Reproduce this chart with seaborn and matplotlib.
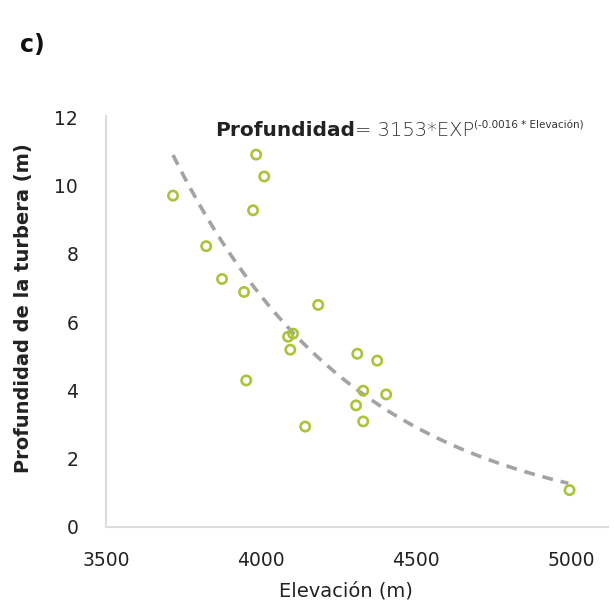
import numpy as np
import matplotlib
matplotlib.use("Agg")
import matplotlib.pyplot as plt
import seaborn as sns
import pandas as pd

# Data
elevacion = [3716, 3984, 4010, 3974, 3823, 3874, 3945, 4184, 4103, 4087,
             4094, 4310, 4374, 3952, 4329, 4403, 4306, 4329, 4142, 4994]
profundidad = [9.7, 10.9, 10.26, 9.27, 8.22, 7.26, 6.88, 6.5, 5.66, 5.57,
               5.19, 5.07, 4.87, 4.29, 3.99, 3.88, 3.56, 3.09, 2.94, 1.08]

# Visual trend curve parameters (drawn dashed line)
trend_a = 5600.0
trend_b = 0.00168
trend_x = [3716, 4990]

x_ticks = [3500, 4000, 4500, 5000]
y_ticks = [0, 2, 4, 6, 8, 10, 12]

sns.set_theme(style="white")
plt.rcParams['font.family'] = ['DejaVu Sans']

fig = plt.figure(figsize=(6.14, 6.06), dpi=100)
ax = fig.add_axes([106/614, 1-527/606, (608-106)/614, (527-116)/606])

xs = np.linspace(trend_x[0], trend_x[1], 200)
ys = trend_a * np.exp(-trend_b * xs)
sns.lineplot(x=xs, y=ys, ax=ax, color="#a3a3a3", lw=2.6, dashes=False,
             linestyle=(0, (3, 2.2)), zorder=1)

df = pd.DataFrame({"Elevación": elevacion, "Profundidad": profundidad})
sns.scatterplot(data=df, x="Elevación", y="Profundidad", ax=ax, marker="o",
                s=45, facecolor="none", edgecolor="#a9c43c", linewidth=1.9, zorder=3)

ax.set_xlim(3500, 5118)
ax.set_ylim(0, 12.03)
ax.set_xticks(x_ticks)
ax.set_yticks(y_ticks)
ax.tick_params(axis='x', length=0, pad=17, labelsize=13.5, colors="#222222")
ax.tick_params(axis='y', length=0, pad=20, labelsize=13.5, colors="#222222")
for s in ["top", "right"]:
    ax.spines[s].set_visible(False)
for s in ["left", "bottom"]:
    ax.spines[s].set_color("#dcdcdc")
    ax.spines[s].set_linewidth(1.5)

ax.set_xlabel("Elevación (m)", fontsize=14, color="#222222")
ax.xaxis.label.set_va("center")
ax.xaxis.set_label_coords((346-106)/(608-106), -(591-527)/(527-116))
ax.set_ylabel("Profundidad de la turbera (m)", fontsize=14, fontweight="bold",
              color="#222222")
ax.yaxis.label.set_va("center")
ax.yaxis.set_label_coords(-(106-24)/(608-106), (527-308)/(527-116))

fig.text(20/614, 1-45/606, "c)", fontsize=17, fontweight="bold", color="#111111",
         va="center", ha="left")

# Equation text in pieces
fig.canvas.draw()
r = fig.canvas.get_renderer()
t1 = fig.text(215/614, 1-130/606, "Profundidad", fontsize=14.5, fontweight="bold",
              color="#222222", va="center", ha="left")
bb = t1.get_window_extent(r)
t2 = fig.text(bb.x1/614, 1-130/606, "= 3153*EXP", fontsize=14, fontweight="light",
              color="#333333", va="center", ha="left")
bb2 = t2.get_window_extent(r)
fig.text(bb2.x1/614, 1-125/606, "(-0.0016 * Elevación)", fontsize=7.5, color="#333333",
         va="center", ha="left")

fig.savefig("out.png", dpi=100)
